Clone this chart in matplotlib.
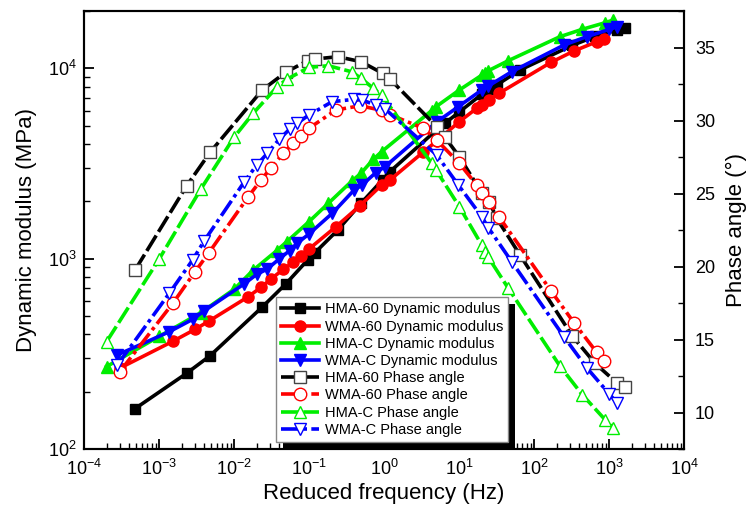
import matplotlib
matplotlib.use("Agg")
import matplotlib.pyplot as plt
from matplotlib.patches import Rectangle
from matplotlib.ticker import FixedLocator, LogLocator, MultipleLocator, NullFormatter

plt.rcParams['font.family'] = ['Liberation Sans', 'DejaVu Sans']
plt.rcParams['mathtext.fontset'] = 'custom'
plt.rcParams['mathtext.rm'] = 'Liberation Sans'
plt.rcParams['mathtext.it'] = 'Liberation Sans:italic'

# ---------------- data ----------------
# HMA-60
hma60_f = [4.8e-4, 2.34e-3, 4.8e-3, 0.0238, 0.0489, 0.096, 0.12, 0.242, 0.493, 0.96, 1.2,
           5.04, 6.5, 10.1, 20.1, 25.4, 31.8, 65, 324, 650, 1291, 1634]
hma60_E = [163, 250, 309, 557, 736, 984, 1075, 1414, 1953, 2600, 2864,
           4750, 5143, 5900, 7300, 7750, 8172, 9795, 13200, 14700, 15900, 16300]
hma60_P = [19.76, 25.53, 27.82, 32.09, 33.30, 34.10, 34.21, 34.37, 34.03, 33.23, 32.84,
           29.58, 28.85, 27.52, 25.05, 24.44, 23.30, 20.79, 15.24, 13.37, 12.0, 11.77]

# WMA-60
wma60_f = [3.0e-4, 1.55e-3, 3.02e-3, 4.64e-3, 0.0155, 0.0229, 0.0308, 0.0454, 0.0618, 0.0774,
           0.1, 0.229, 0.479, 0.93, 1.2, 3.34, 5.04, 10.1, 17.2, 20.5, 25.4, 34.1, 169, 341, 685, 858]
wma60_E = [266, 369, 425, 470, 631, 707, 779, 879, 957, 1036,
           1124, 1472, 1898, 2437, 2589, 3630, 4150, 5243, 6166, 6415, 6817, 7391, 10753, 12328, 13790, 14256]
wma60_P = [12.79, 17.52, 19.64, 20.95, 24.78, 25.92, 26.73, 27.75, 28.48, 28.94,
           29.47, 30.72, 31.01, 30.7, 30.4, 29.47, 28.66, 27.07, 25.58, 25.05, 24.40, 23.41, 18.32, 16.15, 14.12, 13.53]

# HMA-C
hmac_f = [2.0e-4, 1.0e-3, 3.6e-3, 0.01, 0.018, 0.037, 0.0505, 0.1, 0.181, 0.37, 0.493, 0.72, 0.93,
          4.33, 4.94, 10.1, 20.1, 22.2, 24.6, 45.4, 222, 440, 893, 1140]
hmac_E = [271, 390, 520, 690, 870, 1100, 1228, 1564, 1953, 2550, 2808, 3325, 3647,
          6000, 6285, 7691, 9200, 9414, 9710, 10965, 14660, 16030, 17370, 17940]
hmac_P = [14.85, 20.49, 25.29, 28.85, 30.49, 32.27, 32.82, 33.64, 33.75, 33.34, 32.89, 32.21, 31.73,
          27.07, 26.61, 24.1, 21.47, 21.01, 20.63, 18.51, 13.18, 11.22, 9.49, 8.96]

# WMA-C
wmac_f = [2.78e-4, 1.37e-3, 2.81e-3, 3.98e-3, 0.0136, 0.0201, 0.0278, 0.04, 0.055, 0.0695, 0.1,
          0.204, 0.4, 0.51, 0.776, 1.03, 5.04, 9.8, 20.1, 24.6, 50.4, 251, 504, 1009, 1291]
wmac_E = [312, 413, 480, 531, 736, 827, 882, 996, 1101, 1204, 1348,
          1730, 2295, 2437, 2829, 3041, 5223, 6285, 7691, 8072, 9594, 13250, 14660, 16000, 16540]
wmac_P = [13.25, 18.16, 20.45, 21.73, 25.77, 26.95, 27.75, 28.71, 29.4, 29.81, 30.38,
          31.29, 31.45, 31.4, 31.06, 30.8, 27.64, 25.58, 23.41, 22.66, 20.33, 15.19, 13.07, 11.27, 10.63]

series_names = ['HMA-60', 'WMA-60', 'HMA-C', 'WMA-C']
x_ticks = [1e-4, 1e-3, 1e-2, 1e-1, 1e0, 1e1, 1e2, 1e3, 1e4]
y_ticks = [1e2, 1e3, 1e4]
phase_ticks = [10, 15, 20, 25, 30, 35]

colors = ['#000000', '#ff0000', '#00ee00', '#0000ff']
filled_markers = ['s', 'o', '^', 'v']
freqs = [hma60_f, wma60_f, hmac_f, wmac_f]
moduli = [hma60_E, wma60_E, hmac_E, wmac_E]
phases = [hma60_P, wma60_P, hmac_P, wmac_P]
phase_dash = [(0, (5, 1.2)), (0, (5, 1.2, 1, 1.2)), (0, (5, 1.2)), (0, (5, 1.2, 1, 1.2))]

# ---------------- figure ----------------
fig = plt.figure(figsize=(7.49, 5.09), dpi=100)
ax = fig.add_axes([84/749, 1-449/509, 600/749, 438/509])
ax2 = ax.twinx()

handles_dm = []
handles_pa = []
for i in range(4):
    l, = ax.plot(freqs[i], moduli[i], color=colors[i], lw=2.6, marker=filled_markers[i],
                 ms=8 if filled_markers[i] != 's' else 6.8, mfc=colors[i], mec=colors[i],
                 label=f'{series_names[i]} Dynamic modulus', zorder=3)
    handles_dm.append(l)
for i in range(4):
    edge = '#444444' if i == 0 else colors[i]
    l, = ax2.plot(freqs[i], phases[i], color=colors[i], lw=2.6, ls=phase_dash[i],
                  marker=filled_markers[i], ms=9 if filled_markers[i] != 's' else 8,
                  mfc='white', mec=edge, mew=1.0,
                  label=f'{series_names[i]} Phase angle', zorder=3)
    handles_pa.append(l)

ax.set_xscale('log')
ax.set_yscale('log')
ax.set_xlim(1e-4, 1e4)
ax.set_ylim(100, 20000)
ax2.set_ylim(7.5, 37.5)

ax.xaxis.set_major_locator(FixedLocator(x_ticks))
ax.xaxis.set_minor_locator(LogLocator(base=10, subs=range(2, 10), numticks=20))
ax.xaxis.set_minor_formatter(NullFormatter())
ax.yaxis.set_major_locator(FixedLocator(y_ticks))
ax.yaxis.set_minor_locator(LogLocator(base=10, subs=range(2, 10), numticks=20))
ax.yaxis.set_minor_formatter(NullFormatter())
ax2.yaxis.set_major_locator(FixedLocator(phase_ticks))
ax2.yaxis.set_minor_locator(MultipleLocator(2.5))

ax.tick_params(axis='both', which='major', direction='in', length=7, width=1.3, labelsize=13,
               top=False, right=False)
ax.tick_params(axis='both', which='minor', direction='in', length=4, width=1.0,
               top=False, right=False)
ax.tick_params(axis='x', pad=7)
ax.tick_params(axis='y', pad=5)
ax2.tick_params(axis='y', which='major', direction='in', length=7, width=1.3, labelsize=13, pad=8)
ax2.tick_params(axis='y', which='minor', direction='in', length=4, width=1.0)

for a in (ax, ax2):
    for s in a.spines.values():
        s.set_linewidth(1.5)

ax.set_xlabel('Reduced frequency (Hz)', fontsize=16, labelpad=3)
ax.set_ylabel('Dynamic modulus (MPa)', fontsize=16, labelpad=8)
ax2.set_ylabel('Phase angle (°)', fontsize=16, labelpad=8)

leg = ax2.legend(handles=handles_dm + handles_pa, loc='lower left',
                 bbox_to_anchor=(0.32, 0.016), fontsize=10.5, frameon=True, fancybox=False,
                 edgecolor='#888888', framealpha=1, borderpad=0.35, labelspacing=0.22,
                 handlelength=2.6, handletextpad=0.4, borderaxespad=0)
leg.get_frame().set_linewidth(1.0)
leg.set_zorder(10)

fig.canvas.draw()
bb = leg.get_window_extent()
W, H = fig.get_size_inches() * fig.dpi
off = 7
shadow = Rectangle(((bb.x0 + off) / W, (bb.y0 - off) / H), bb.width / W, bb.height / H,
                   transform=fig.transFigure, facecolor='black', edgecolor='none', zorder=9)
ax2.add_artist(shadow)

fig.savefig('out.png', dpi=100)
